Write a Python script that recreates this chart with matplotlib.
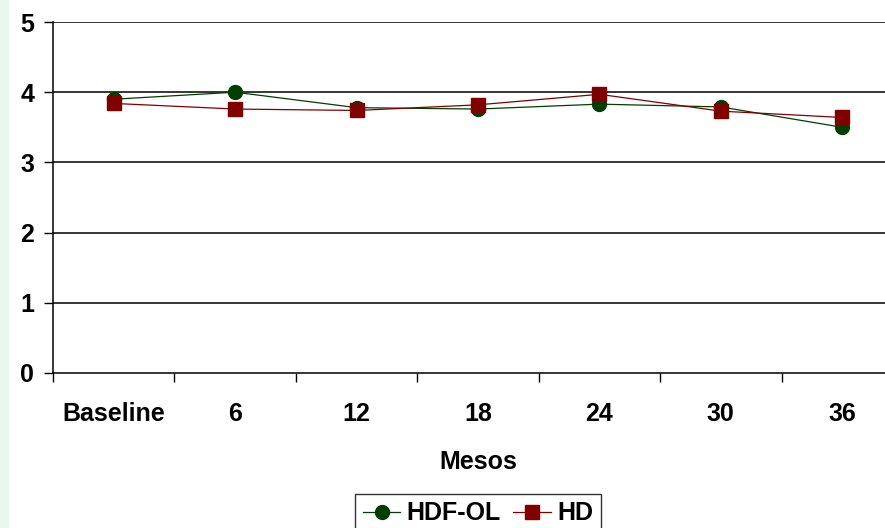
import matplotlib
matplotlib.use("Agg")
import matplotlib.pyplot as plt
from matplotlib.patches import Rectangle

categories = ["Baseline", "6", "12", "18", "24", "30", "36"]
hdf_ol = [3.90, 4.00, 3.78, 3.76, 3.83, 3.79, 3.50]
hd = [3.84, 3.76, 3.74, 3.82, 3.97, 3.73, 3.64]
y_ticks = [0, 1, 2, 3, 4, 5]

plt.rcParams['font.family'] = ['Liberation Sans', 'DejaVu Sans']
plt.rcParams['font.weight'] = 'bold'

W, H = 885, 528
fig = plt.figure(figsize=(W / 100, H / 100), dpi=100)
fig.patches.append(Rectangle((0, 0), 8 / W, 1, transform=fig.transFigure,
                             color='#eaf6ee', zorder=0))

# plot area runs past the right edge of the picture
ax = fig.add_axes([53 / W, 1 - 373 / H, 850 / W, 351 / H])
x = list(range(len(categories)))

ax.plot(x, hdf_ol, color='#003f00', lw=0.9, marker='o', ms=10,
        mfc='#003f00', mec='#003f00', label='HDF-OL', clip_on=False, zorder=3)
ax.plot(x, hd, color='#800000', lw=0.9, marker='s', ms=10,
        mfc='#800000', mec='#800000', label='HD', clip_on=False, zorder=4)

ax.set_ylim(0, 5)
ax.set_xlim(-0.5, len(categories) - 0.5)
ax.set_yticks(y_ticks)
ax.set_yticklabels([str(v) for v in y_ticks], fontsize=18, fontweight='bold')
ax.set_xticks(x)
ax.set_xticklabels(categories, fontsize=18, fontweight='bold')
ax.set_xticks([i - 0.5 for i in range(len(categories) + 1)], minor=True)
ax.tick_params(axis='x', which='major', length=0, pad=21)
ax.tick_params(axis='x', which='minor', length=6.5, width=1, direction='out')
ax.tick_params(axis='y', length=6.5, width=1, pad=7, direction='out')

for v in y_ticks[1:]:
    ax.axhline(v, color='black', lw=1.1, zorder=1)
ax.spines['right'].set_visible(False)
ax.spines['top'].set_visible(False)
for s in ['left', 'bottom']:
    ax.spines[s].set_linewidth(1.1)

ax.set_xlabel("Mesos", fontsize=18, fontweight='bold', labelpad=17)

leg = fig.legend(loc='upper center', bbox_to_anchor=(478 / W, 1 - 494 / H),
                 ncol=2, frameon=True, fancybox=False, edgecolor='black',
                 fontsize=18, handlelength=1.5, handletextpad=0.25,
                 columnspacing=0.5, borderpad=0.3, borderaxespad=0)
leg.get_frame().set_linewidth(1)
for t in leg.get_texts():
    t.set_fontweight('bold')

fig.savefig("out.png", dpi=100)
